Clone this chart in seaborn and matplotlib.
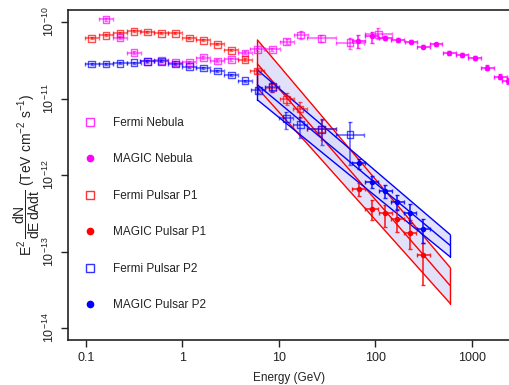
import numpy as np
import matplotlib
matplotlib.use("Agg")
import matplotlib.pyplot as plt
import seaborn as sns
from matplotlib.lines import Line2D

# ---------------- data ----------------
# Fermi Nebula
fn_E = [0.161, 0.225, 0.315, 0.433, 0.604, 0.844, 1.18, 1.65, 2.30, 3.21, 4.46, 6.0, 8.6, 12.1, 16.9, 27.6, 54.8, 107.7]
fn_F = [1.08e-10, 6.24e-11, 3.97e-11, 3.07e-11, 3.16e-11, 2.92e-11, 2.96e-11, 3.42e-11, 3.10e-11, 3.26e-11,
        3.94e-11, 4.42e-11, 4.40e-11, 5.53e-11, 6.77e-11, 6.13e-11, 5.37e-11, 6.91e-11]
fn_xw = [0.073] * 15 + [0.148, 0.148, 0.143]
fn_dlo = [0.02] * 13 + [0.03, 0.05, 0.044, 0.086, 0.065]
fn_dhi = [0.02] * 13 + [0.03, 0.05, 0.043, 0.057, 0.078]

# MAGIC Nebula
mn_E = [66.8, 92.0, 126.5, 171, 235, 315, 427, 587, 795, 1076, 1456, 1972, 2405]
mn_F = [5.65e-11, 6.56e-11, 6.13e-11, 5.82e-11, 5.53e-11, 4.77e-11, 5.12e-11, 3.97e-11, 3.67e-11, 3.36e-11,
        2.53e-11, 1.93e-11, 1.70e-11]
mn_dlo = [0.095, 0.087, 0.025, 0.02, 0.02, 0.02, 0.02, 0.025, 0.025, 0.025, 0.03, 0.035, 0.04]
mn_dhi = [0.078, 0.056, 0.025, 0.02, 0.02, 0.02, 0.02, 0.025, 0.025, 0.025, 0.03, 0.035, 0.04]

# Fermi Pulsar P1
f1_E = [0.1146, 0.161, 0.225, 0.315, 0.433, 0.604, 0.844, 1.18, 1.65, 2.30, 3.21, 4.46, 5.98, 8.56, 12.1, 16.6, 27.9]
f1_F = [6.13e-11, 6.70e-11, 7.11e-11, 7.56e-11, 7.40e-11, 7.11e-11, 7.11e-11, 6.18e-11, 5.78e-11, 5.13e-11,
        4.27e-11, 3.23e-11, 2.29e-11, 1.39e-11, 9.8e-12, 7.3e-12, 4.0e-12]
f1_xw = [0.073] * 16 + [0.148]
f1_dlo = [0.015] * 12 + [0.03, 0.06, 0.074, 0.12, 0.144]
f1_dhi = [0.015] * 12 + [0.03, 0.06, 0.078, 0.095, 0.117]

# MAGIC Pulsar P1
m1_E = [67.2, 92.1, 126.5, 169.5, 229.6, 315.5]
m1_F = [6.6e-13, 3.59e-13, 3.18e-13, 2.68e-13, 1.74e-13, 9.0e-14]
m1_dlo = [0.10, 0.14, 0.183, 0.17, 0.209, 0.39]
m1_dhi = [0.074, 0.112, 0.10, 0.123, 0.174, 0.157]

# Fermi Pulsar P2
f2_E = [0.1146, 0.161, 0.225, 0.315, 0.433, 0.604, 0.844, 1.18, 1.65, 2.30, 3.21, 4.46, 6.1, 8.56, 12.0, 16.7, 27.9, 54.8]
f2_F = [2.83e-11, 2.83e-11, 2.89e-11, 2.92e-11, 3.07e-11, 3.07e-11, 2.83e-11, 2.59e-11, 2.51e-11, 2.29e-11,
        2.03e-11, 1.70e-11, 1.28e-11, 1.43e-11, 5.5e-12, 4.52e-12, 3.97e-12, 3.35e-12]
f2_xw = [0.073] * 16 + [0.148, 0.148]
f2_dlo = [0.015] * 12 + [0.03, 0.065, 0.137, 0.174, 0.205, 0.39]
f2_dhi = [0.015] * 12 + [0.03, 0.065, 0.089, 0.108, 0.13, 0.174]

# MAGIC Pulsar P2
m2_E = [67.2, 92.1, 126.5, 169.5, 229.6, 315.5]
m2_F = [1.42e-12, 8.15e-13, 6.16e-13, 4.47e-13, 3.21e-13, 1.99e-13]
m2_dlo = [0.076, 0.082, 0.091, 0.104, 0.134, 0.187]
m2_dhi = [0.055, 0.07, 0.082, 0.091, 0.117, 0.127]

# power-law fit bands (E range, upper / centre / lower at both ends)
band_E = [6.0, 600.0]
p1_up = [5.82e-11, 6.15e-14]
p1_mid = [2.83e-11, 3.57e-14]
p1_lo = [1.37e-11, 2.09e-14]
p2_up = [2.36e-11, 1.66e-13]
p2_mid = [1.51e-11, 1.20e-13]
p2_lo = [9.6e-12, 8.5e-14]

# ---------------- style ----------------
sns.set_style("ticks")
plt.rcParams['font.family'] = ['Liberation Sans', 'DejaVu Sans']
plt.rcParams['mathtext.fontset'] = 'custom'
plt.rcParams['mathtext.rm'] = 'Liberation Sans'
plt.rcParams['mathtext.it'] = 'Liberation Sans'
plt.rcParams['mathtext.bf'] = 'Liberation Sans:bold'

fig = plt.figure(figsize=(5.10, 3.85), dpi=100)
ax = fig.add_axes([68 / 510, 1 - 340 / 385, 1 - 68 / 510, 330 / 385])
ax.set_xscale('log')
ax.set_yscale('log')

MAG, RED, BLUE = '#ff00ff', '#ff0000', '#0000ff'
FILL = '#dcdcf8'


def band(up, mid, lo, col):
    E = np.array(band_E)
    ax.fill_between(E, lo, up, color=FILL, alpha=0.85, lw=0, zorder=1)
    for y in (up, mid, lo):
        ax.plot(E, y, color=col, lw=1.0, zorder=2)
    ax.plot([E[0], E[0]], [lo[0], up[0]], color=col, lw=1.0, zorder=2)
    ax.plot([E[1], E[1]], [lo[1], up[1]], color=col, lw=1.0, zorder=2)


band(p1_up, p1_mid, p1_lo, RED)
band(p2_up, p2_mid, p2_lo, BLUE)


def errs(E, F, xw, dlo, dhi):
    E = np.array(E, float); F = np.array(F, float)
    xw = np.array(xw, float)
    xerr = [E - E * 10 ** (-xw), E * 10 ** xw - E]
    yerr = [F - F * 10 ** (-np.array(dlo)), F * 10 ** np.array(dhi) - F]
    return xerr, yerr


def fermi(E, F, xw, dlo, dhi, col):
    xerr, yerr = errs(E, F, xw, dlo, dhi)
    ax.errorbar(E, F, xerr=xerr, yerr=yerr, fmt='none', ecolor=col, elinewidth=1.2,
                capsize=1.5, alpha=0.6, zorder=3)
    sns.scatterplot(x=E, y=F, ax=ax, marker='s', s=24, facecolors='none', edgecolor=col,
                    linewidth=1.0, alpha=0.7, zorder=4, legend=False)


def magic(E, F, dlo, dhi, col):
    xerr, yerr = errs(E, F, [0.067] * len(E), dlo, dhi)
    ax.errorbar(E, F, xerr=xerr, yerr=yerr, fmt='none', ecolor=col, elinewidth=1.2,
                capsize=1.5, alpha=0.85, zorder=3)
    sns.scatterplot(x=E, y=F, ax=ax, marker='o', s=16, color=col, edgecolor=col,
                    linewidth=0, zorder=5, legend=False)


fermi(fn_E, fn_F, fn_xw, fn_dlo, fn_dhi, MAG)
magic(mn_E, mn_F, mn_dlo, mn_dhi, MAG)
fermi(f1_E, f1_F, f1_xw, f1_dlo, f1_dhi, RED)
magic(m1_E, m1_F, m1_dlo, m1_dhi, RED)
fermi(f2_E, f2_F, f2_xw, f2_dlo, f2_dhi, BLUE)
magic(m2_E, m2_F, m2_dlo, m2_dhi, BLUE)

# axes
ax.set_xlim(0.0651, 2500)
ax.set_ylim(6.97e-15, 1.435e-10)
ax.set_xticks([0.1, 1, 10, 100, 1000])
ax.set_xticklabels(['0.1', '1', '10', '100', '1000'])
ax.set_yticks([1e-14, 1e-13, 1e-12, 1e-11, 1e-10])
ax.set_yticklabels([r'$10^{-14}$', r'$10^{-13}$', r'$10^{-12}$', r'$10^{-11}$', r'$10^{-10}$'])
ax.minorticks_off()
ax.tick_params(axis='both', labelsize=9, length=5, width=1, color='#222222', labelcolor='#222222')
ax.tick_params(axis='y', labelrotation=90, pad=3)
for lab in ax.get_yticklabels():
    lab.set_va('center')
for s in ('left', 'bottom', 'top'):
    ax.spines[s].set_linewidth(1.2)
    ax.spines[s].set_color('#222222')
ax.spines['right'].set_visible(False)

ax.set_xlabel('Energy (GeV)', fontsize=8.5, color='#222222', labelpad=6)
ax.set_ylabel(r'$\mathregular{E^2\,\dfrac{dN}{dE\,dAdt}}$ (TeV cm$^{\mathregular{-2}}$ s$^{\mathregular{-1}}$)',
              fontsize=10, color='#222222', labelpad=0)

handles = [
    Line2D([], [], ls='none', marker='s', mfc='none', mec=MAG, ms=5.5, mew=1.0, alpha=0.8),
    Line2D([], [], ls='none', marker='o', mfc=MAG, mec=MAG, ms=4.5),
    Line2D([], [], ls='none', marker='s', mfc='none', mec=RED, ms=5.5, mew=1.0, alpha=0.8),
    Line2D([], [], ls='none', marker='o', mfc=RED, mec=RED, ms=4.5),
    Line2D([], [], ls='none', marker='s', mfc='none', mec=BLUE, ms=5.5, mew=1.0, alpha=0.8),
    Line2D([], [], ls='none', marker='o', mfc=BLUE, mec=BLUE, ms=4.5),
]
labels = ['Fermi Nebula', 'MAGIC Nebula', 'Fermi Pulsar P1', 'MAGIC Pulsar P1',
          'Fermi Pulsar P2', 'MAGIC Pulsar P2']
leg = ax.legend(handles, labels, loc='upper left', bbox_to_anchor=(0.037, 0.676), frameon=False,
                fontsize=8.5, handlelength=1.0, handletextpad=1.45, labelspacing=2.07,
                borderpad=0, borderaxespad=0)
for t in leg.get_texts():
    t.set_color('#222222')

fig.savefig('out.png', dpi=100)
